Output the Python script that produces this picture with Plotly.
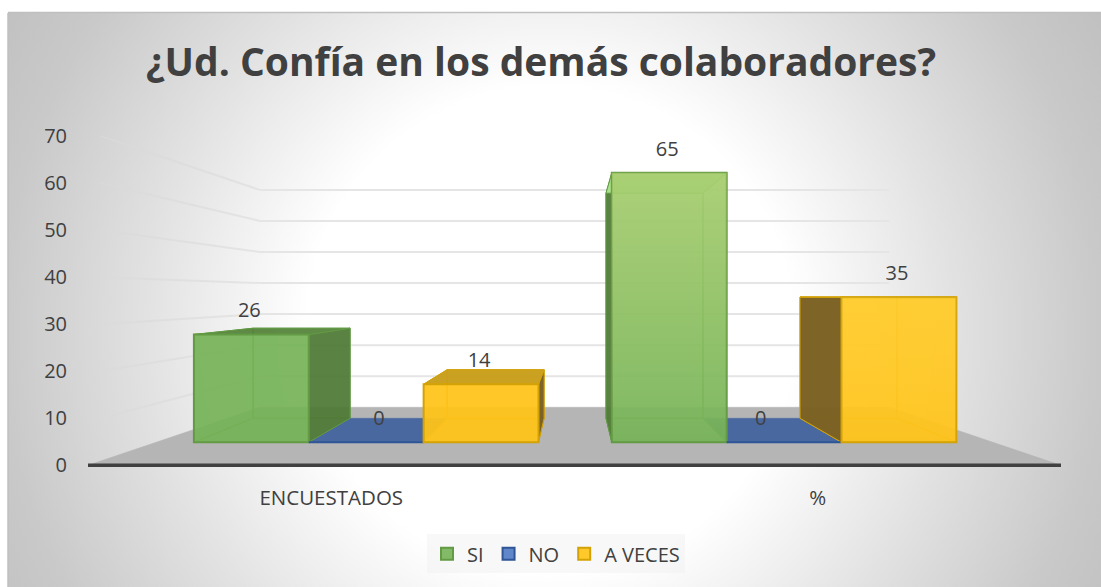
import base64
import plotly.graph_objects as go

TITLE = "¿Ud. Confía en los demás colaboradores?"
CATEGORIES = ["ENCUESTADOS", "%"]
SERIES = ["SI", "NO", "A VECES"]
SI = [26, 65]
NO = [0, 0]
A_VECES = [14, 35]
Y_TICKS = [0, 10, 20, 30, 40, 50, 60, 70]

VALUES = [SI, NO, A_VECES]
W, H = 1101, 587
Y_MIN = -1
L, R, T, B = 88, 40, 136, 122 - 4.7
TEXT = "#404040"
FONT = "Open Sans"

# Perspective planes: x shrink, y base (axis units), y scale
AXIS = (1.0, 0.0, 1.0)
FRONT = (0.881, 4.9, 0.881)
BACK = (0.744, 10.0, 0.736)
WALL = (0.647, 12.34, 0.66)
CAT_X = [0.514, 1.489]
BAR_W = 0.268


def px(u, v, plane):
    s, base, sy = plane
    return 1 + (u - 1) * s, base + v * sy


def poly(points, fill, line, width=1.0, z=1):
    xs = [p[0] for p in points] + [points[0][0]]
    ys = [p[1] for p in points] + [points[0][1]]
    return go.Scatter(x=xs, y=ys, mode="lines", fill="toself", fillcolor=fill,
                      line=dict(color=line, width=width), showlegend=False,
                      hoverinfo="skip", zorder=z)


STYLE = [
    dict(front="rgba(118,178,86,0.90)", dark="rgba(78,120,54,0.92)", top_dark="rgba(84,130,58,0.92)",
         top_light="#abe18c", inner="rgba(120,180,90,0.25)", line="#639a44", legend_line="#4f7f33",
         glow="rgba(255,255,160,0.35)"),
    dict(front="#5f87c9", dark="#4968a0", top_dark="#4968a0", top_light="#4968a0",
         inner="#4968a0", line="#2f5597", legend_line="#2f5597", glow="rgba(0,0,0,0)"),
    dict(front="rgba(255,195,25,0.92)", dark="rgba(122,96,34,0.97)", top_dark="rgba(200,158,28,0.97)",
         top_light="#ffd633", inner="rgba(255,190,20,0.25)", line="#d3a207", legend_line="#c09000",
         glow="rgba(255,240,120,0.18)"),
]

fig = go.Figure()

# Front faces (real bar traces, also feed the legend)
for i, name in enumerate(SERIES):
    xs = [px(CAT_X[c] + (i - 1) * BAR_W, 0, FRONT)[0] for c in range(len(CATEGORIES))]
    ys = [VALUES[i][c] * FRONT[2] for c in range(len(CATEGORIES))]
    st = STYLE[i]
    fig.add_trace(go.Bar(
        x=xs, y=ys, base=[FRONT[1]] * len(xs), width=BAR_W * FRONT[0], name=name,
        marker=dict(color=st["front"], line=dict(color=st["line"], width=2)),
        hoverinfo="skip", zorder=6))

# Floor
fig.add_trace(poly([px(0, 0, AXIS), px(2, 0, AXIS), px(2, 0, WALL), px(0, 0, WALL)],
                   "#b5b5b5", "#b5b5b5", 0.5, 1))

# Axis line
fig.add_trace(go.Scatter(x=[0, 2], y=[0, 0], mode="lines", line=dict(color="#404040", width=3.5),
                         showlegend=False, hoverinfo="skip", zorder=2))

# Gridlines on back wall and left wall
for t in Y_TICKS[1:]:
    p0, p1 = px(0, t, WALL), px(2, t, WALL)
    fig.add_trace(go.Scatter(x=[p0[0], p1[0]], y=[p0[1], p1[1]], mode="lines",
                             line=dict(color="#e5e5e5", width=2), showlegend=False,
                             hoverinfo="skip", zorder=0))
    p2 = (0.025, t)
    fig.add_trace(go.Scatter(x=[p2[0], p0[0]], y=[p2[1], p0[1]], mode="lines",
                             line=dict(color="rgba(218,218,218,0.6)", width=2), showlegend=False,
                             hoverinfo="skip", zorder=0))

# Bar side, top and back faces
for i in range(len(SERIES)):
    st = STYLE[i]
    for c in range(len(CATEGORIES)):
        v = VALUES[i][c]
        cx = CAT_X[c] + (i - 1) * BAR_W
        ul, ur = cx - BAR_W / 2, cx + BAR_W / 2
        fl0, fr0 = px(ul, 0, FRONT), px(ur, 0, FRONT)
        fl1, fr1 = px(ul, v, FRONT), px(ur, v, FRONT)
        bl0, br0 = px(ul, 0, BACK), px(ur, 0, BACK)
        bl1, br1 = px(ul, v, BACK), px(ur, v, BACK)
        if v == 0:
            fig.add_trace(poly([fl0, fr0, br0, bl0], st["top_dark"], st["top_dark"], 0.5, 3))
            continue
        # back, floor
        fig.add_trace(poly([bl0, br0, br1, bl1], st["inner"], st["line"], 1, 3))
        fig.add_trace(poly([fl0, fr0, br0, bl0], st["inner"], st["line"], 1, 3))
        # left/right sides
        left_outer = bl0[0] < fl0[0]
        right_outer = br0[0] > fr0[0]
        fig.add_trace(poly([fl0, fl1, bl1, bl0], st["dark"] if left_outer else st["inner"], st["line"], 1, 4))
        fig.add_trace(poly([fr0, fr1, br1, br0], st["dark"] if right_outer else st["inner"], st["line"], 1, 4))
        # top
        top_seen = bl1[1] > fl1[1]
        fig.add_trace(poly([fl1, fr1, br1, bl1], st["top_dark"] if top_seen else st["top_light"], st["line"], 1, 4))
        # soft highlight on tall front faces
        if v > 30:
            fig.add_trace(go.Scatter(
                x=[fl0[0], fr0[0], fr1[0], fl1[0], fl0[0]], y=[fl0[1], fr0[1], fr1[1], fl1[1], fl0[1]],
                mode="lines", line=dict(width=0), fill="toself",
                fillgradient=dict(type="vertical",
                                  colorscale=[[0, "rgba(255,255,160,0)"], [1, st["glow"]]]),
                showlegend=False, hoverinfo="skip", zorder=7))

# Data labels
LABEL_DX = {(1, 0): 0.03, (1, 1): -0.044}
LABEL_DY = 4.7
for i in range(len(SERIES)):
    for c in range(len(CATEGORIES)):
        v = VALUES[i][c]
        x0, y0 = px(CAT_X[c] + (i - 1) * BAR_W, v, FRONT)
        fig.add_trace(go.Scatter(
            x=[x0 + LABEL_DX.get((i, c), 0) - 0.004], y=[y0 + LABEL_DY], mode="text", text=[str(v)],
            textposition="middle center", textfont=dict(family=FONT, size=20, color=TEXT),
            showlegend=False, hoverinfo="skip", zorder=9))

svg = f'''<svg xmlns="http://www.w3.org/2000/svg" width="{W}" height="{H}">
<defs><radialGradient id="g" gradientUnits="userSpaceOnUse" cx="550" cy="330" r="640">
<stop offset="0" stop-color="#ffffff"/><stop offset="0.38" stop-color="#ffffff"/>
<stop offset="0.63" stop-color="#e2e2e2"/><stop offset="0.86" stop-color="#c9c9c9"/>
<stop offset="1" stop-color="#c0c0c0"/>
</radialGradient></defs>
<rect x="0" y="0" width="{W}" height="{H}" fill="#ffffff"/>
<rect x="8" y="13" width="{W-8}" height="{H-13}" fill="url(#g)"/>
<line x1="8" y1="12.5" x2="{W}" y2="12.5" stroke="#bfbfbf" stroke-width="1.5"/>
<line x1="8" y1="13" x2="8" y2="{H}" stroke="#bfbfbf" stroke-width="1.5"/>
</svg>'''
uri = "data:image/svg+xml;base64," + base64.b64encode(svg.encode()).decode()
pw, ph = W - L - R, H - T - B
plot_bottom = H - B

fig.update_layout(
    width=W, height=H, margin=dict(l=L, r=R, t=T, b=B, autoexpand=False),
    paper_bgcolor="#ffffff", plot_bgcolor="rgba(0,0,0,0)", barmode="overlay",
    title=dict(text=TITLE, x=(541 - L) / pw, xref="paper", xanchor="center",
               y=1 - 62 / H, yref="container", yanchor="middle",
               font=dict(family=FONT, size=39, color=TEXT, weight="bold")),
    font=dict(family=FONT, color=TEXT),
    images=[dict(source=uri, xref="paper", yref="paper", x=-L / pw, y=1 + T / ph,
                 sizex=W / pw, sizey=H / ph, sizing="stretch", layer="below",
                 xanchor="left", yanchor="top")],
    xaxis=dict(range=[0, 2], tickvals=[0.5, 1.5], ticktext=CATEGORIES, showgrid=False,
               zeroline=False, showline=False,
               ticks="outside", ticklen=9, tickcolor="rgba(0,0,0,0)",
               tickfont=dict(family=FONT, size=20.5, color=TEXT), fixedrange=True),
    yaxis=dict(range=[Y_MIN, 70], tickvals=Y_TICKS, showgrid=False, zeroline=False, showline=False,
               ticks="outside", ticklen=16, tickcolor="rgba(0,0,0,0)",
               tickfont=dict(family=FONT, size=20, color=TEXT), fixedrange=True),
    legend=dict(orientation="h", x=(427 - L) / pw, y=(plot_bottom - 534) / ph, xanchor="left", yanchor="top",
                bgcolor="rgba(240,240,240,0.45)", font=dict(family=FONT, size=20, color=TEXT),
                traceorder="normal"),
)

fig.write_html("out.html", config=dict(displayModeBar=False),
               post_script="document.body.style.margin='0';document.documentElement.style.overflow='hidden';")
